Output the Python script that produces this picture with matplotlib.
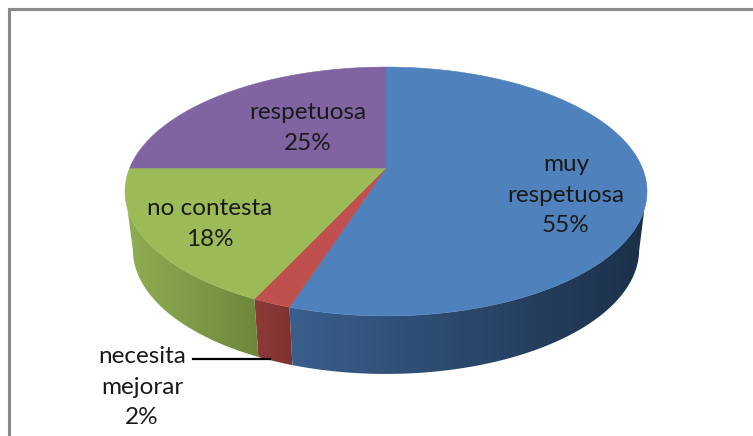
#!/usr/bin/env python
# -*- coding: utf-8 -*-

import numpy as np
import matplotlib
matplotlib.use('Agg')
import matplotlib.pyplot as plt
from matplotlib.colors import LinearSegmentedColormap
from matplotlib.patches import Polygon

categories = ['muy\nrespetuosa', 'necesita\nmejorar', 'no contesta', 'respetuosa']
values = [55, 2, 18, 25]
top_colors = ['#4F81BD', '#C0504D', '#9BBB59', '#8064A2']
side_colors = [('#3A5F8D', '#1C304A'), ('#8E3B39', '#7E3230'),
               ('#8FAD52', '#6E883B'), ('#6A5387', '#6A5387')]
label_pos = [(566, 195), (142, 387), (210, 224), (308, 128)]

CX, CY = 386, 168
A, B, P = 120, 256.3, 0.1888
DEPTH = 58
SHRINK = 0.97
# the side silhouette leaves the top face here and reaches its widest there
TOP_TANGENT_Y = 208
WIDEST_Y = 191.5

plt.rcParams['font.family'] = ['Lato', 'DejaVu Sans']


def project(theta):
    # clockwise from 12 o'clock, tilted pie with some perspective
    u, v = np.sin(theta), -np.cos(theta)
    d = 1 - P * v
    return CX + B * u / d, CY + A * v / d


fig = plt.figure(figsize=(7.53, 4.36), dpi=100)
ax = fig.add_axes([0, 0, 1, 1])

ax.plot([9.5, 9.5, 753], [436, 9, 9], color='#8A8A8A', lw=2.2,
        solid_joinstyle='miter')

edges = np.cumsum([0] + values) / sum(values) * 2 * np.pi

# sides first, only the front part of each slice shows
for i in range(len(values)):
    t = np.linspace(edges[i], edges[i + 1], 400)
    x, y = project(t)
    top = y >= TOP_TANGENT_Y
    low = y >= WIDEST_Y
    if not top.any():
        continue
    xb = CX + (x[low] - CX) * SHRINK
    pts = np.r_[np.c_[x[top], y[top]], np.c_[xb, y[low] + DEPTH][::-1]]
    poly = Polygon(pts, closed=True, fc='none', ec='none')
    ax.add_patch(poly)
    cmap = LinearSegmentedColormap.from_list('s%d' % i, side_colors[i])
    x0, x1 = pts[:, 0].min(), pts[:, 0].max()
    img = ax.imshow(np.linspace(0, 1, 256)[None, :], cmap=cmap, aspect='auto',
                    extent=(x0, x1, 436, 0), interpolation='bilinear')
    img.set_clip_path(poly)

for i in range(len(values)):
    t = np.linspace(edges[i], edges[i + 1], 200)
    x, y = project(t)
    ax.fill(np.r_[CX, x], np.r_[CY, y], color=top_colors[i], lw=0.4)

ax.plot([193, 270], [359, 359], color='black', lw=1.6)

for i in range(len(values)):
    ax.text(label_pos[i][0], label_pos[i][1],
            '%s\n%d%%' % (categories[i], values[i]),
            ha='center', va='center', fontsize=17.5, color='#1A1A1A',
            linespacing=1.55)

ax.set_xlim(0, 753)
ax.set_ylim(436, 0)
ax.axis('off')
fig.savefig('out.png', dpi=100)
